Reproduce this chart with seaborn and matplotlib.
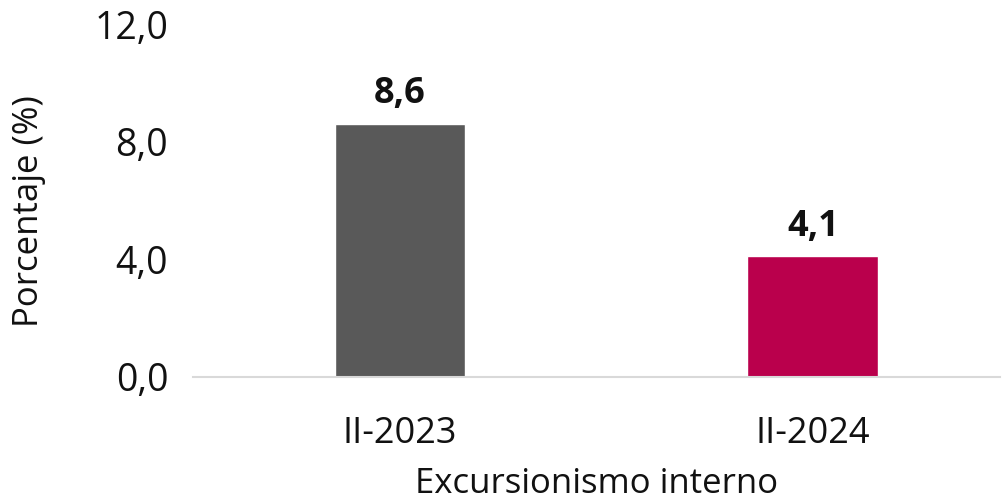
import matplotlib
matplotlib.use("Agg")
import matplotlib.pyplot as plt
import seaborn as sns
import pandas as pd

periodos = ["II-2023", "II-2024"]
porcentajes = [8.6, 4.1]
colores = ["#595959", "#BA004C"]
yticks = [0.0, 4.0, 8.0, 12.0]

sns.set_theme(style="white")
plt.rcParams['font.family'] = ['Open Sans', 'DejaVu Sans']

df = pd.DataFrame({"periodo": periodos, "valor": porcentajes})

fig = plt.figure(figsize=(10.06, 5.04), dpi=100)
ax = fig.add_axes([0.192, 0.252, 0.802, 0.700])

sns.barplot(data=df, x="periodo", y="valor", hue="periodo", palette=colores,
            width=0.317, legend=False, ax=ax, saturation=1)

for i, v in enumerate(porcentajes):
    ax.text(i, v + 0.4, f"{v:.1f}".replace(".", ","), ha="center", va="bottom",
            fontsize=26, fontweight="bold", color="#111111")

ax.set_ylim(0, 12)
ax.set_xlim(-0.501, 1.453)
ax.set_yticks(yticks)
ax.set_yticklabels([f"{t:.1f}".replace(".", ",") for t in yticks], fontsize=27, color="#111111")
ax.tick_params(axis="x", labelsize=26, colors="#111111", pad=28, length=0)
ax.tick_params(axis="y", pad=18, length=0)
for t in ax.get_xticklabels():
    t.set_color("#111111")

ax.set_xlabel("Excursionismo interno", fontsize=25, color="#111111")
ax.set_ylabel("Porcentaje (%)", fontsize=25, color="#111111")
ax.xaxis.set_label_coords(0.5, -0.255)
ax.yaxis.set_label_coords(-0.183, 0.47)

for s in ["top", "right", "left"]:
    ax.spines[s].set_visible(False)
ax.spines["bottom"].set_color("#D9D9D9")
ax.spines["bottom"].set_linewidth(1.5)

fig.savefig("out.png", dpi=100)
